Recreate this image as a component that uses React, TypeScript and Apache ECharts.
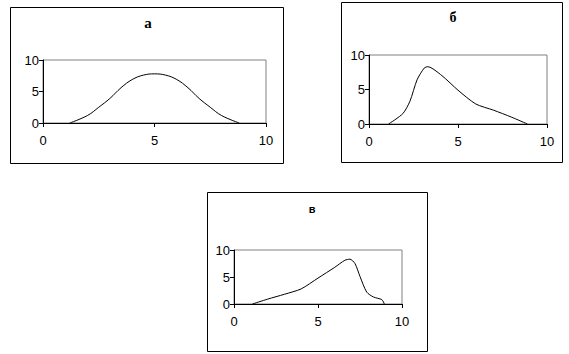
import React, { useEffect, useRef } from "react";
import * as echarts from "echarts";

const titles = ["а", "б", "в"];
const xTicks = [0, 5, 10];
const yTicks = [0, 5, 10];

const xA = [1.2, 2, 2.5, 3, 3.5, 4, 4.5, 5, 5.5, 6, 6.5, 7, 7.5, 8, 8.8];
const yA = [0, 1.2, 2.5, 3.9, 5.6, 6.9, 7.6, 7.8, 7.6, 6.9, 5.6, 3.9, 2.5, 1.2, 0];

const xB = [1.1, 1.9, 2.3, 2.7, 3.1, 3.3, 4.1, 5, 6, 7, 8, 8.9];
const yB = [0, 1.5, 3.3, 6.4, 8.1, 8.3, 7, 4.9, 2.9, 2, 1, 0];

const xV = [1.1, 2, 3, 4, 5, 6, 6.6, 6.9, 7.2, 7.5, 7.9, 8.3, 8.8, 8.95];
const yV = [0, 0.9, 1.8, 2.8, 4.8, 6.8, 8.1, 8.3, 7.5, 5.1, 2.2, 1.3, 0.8, 0];

const pair = (xs: number[], ys: number[]) => xs.map((x, i) => [x, ys[i]]);

export default function App() {
  const ref = useRef<HTMLDivElement>(null);
  useEffect(() => {
    if (!ref.current) return;
    const chart = echarts.init(ref.current, undefined, { renderer: "svg" });
    const grids = [
      { left: 43, top: 60, width: 223, height: 63 },
      { left: 369, top: 55, width: 178, height: 69 },
      { left: 234, top: 250, width: 168, height: 54 },
    ];
    const frames = [
      { x: 10.5, y: 7.5, width: 273, height: 156 },
      { x: 341.5, y: 2.5, width: 221, height: 160 },
      { x: 207.5, y: 192.5, width: 220, height: 159 },
    ];
    const titlePos = [
      { x: 148, y: 23, font: "bold 15px 'Liberation Serif', serif" },
      { x: 453, y: 17, font: "bold 14px 'Liberation Serif', serif" },
      { x: 312, y: 209, font: "bold 11px 'Liberation Sans', Arial, sans-serif" },
    ];
    const data = [pair(xA, yA), pair(xB, yB), pair(xV, yV)];
    const smooths = [0.4, 0.25, 0.25];
    const labelStyle = {
      color: "#000",
      fontSize: 13,
      fontFamily: "'Liberation Sans', Arial, sans-serif",
    };
    const axisLine = { show: true, onZero: false, lineStyle: { color: "#000", width: 1 } };
    const axisTick = { show: true, inside: false, length: 4, lineStyle: { color: "#000" } };
    chart.setOption({
      animation: false,
      backgroundColor: "#fff",
      grid: grids.map((g) => ({
        ...g,
        show: true,
        borderColor: "#808080",
        borderWidth: 1,
        backgroundColor: "transparent",
      })),
      xAxis: grids.map((_, i) => ({
        type: "value",
        gridIndex: i,
        min: xTicks[0],
        max: xTicks[xTicks.length - 1],
        interval: 5,
        axisLine,
        axisTick,
        splitLine: { show: false },
        axisLabel: { ...labelStyle, margin: 11 },
      })),
      yAxis: grids.map((_, i) => ({
        type: "value",
        gridIndex: i,
        min: yTicks[0],
        max: yTicks[yTicks.length - 1],
        interval: 5,
        axisLine,
        axisTick,
        splitLine: { show: false },
        axisLabel: { ...labelStyle, margin: 4 },
      })),
      series: data.map((d, i) => ({
        type: "line",
        xAxisIndex: i,
        yAxisIndex: i,
        data: d,
        smooth: smooths[i],
        symbol: "none",
        lineStyle: { color: "#000", width: 1 },
      })),
      graphic: [
        ...frames.map((f) => ({
          type: "rect",
          shape: f,
          style: { fill: "none", stroke: "#000", lineWidth: 1 },
          silent: true,
        })),
        ...titlePos.map((t, i) => ({
          type: "text",
          x: t.x,
          y: t.y,
          style: {
            text: titles[i],
            font: t.font,
            fill: "#000",
            textAlign: "center",
            textVerticalAlign: "middle",
          },
        })),
      ],
    });
    return () => chart.dispose();
  }, []);
  return (
    <div
      ref={ref}
      style={{ position: "fixed", left: 0, top: 0, width: 569, height: 354 }}
    />
  );
}
